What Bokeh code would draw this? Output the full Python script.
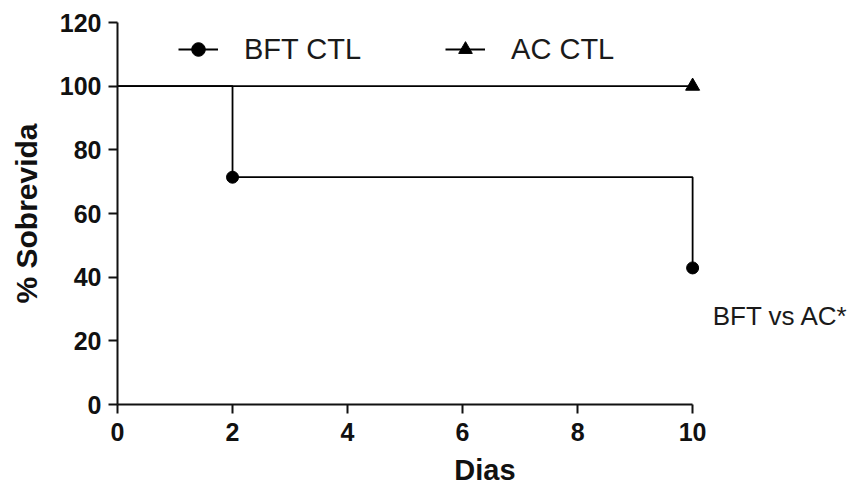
from bokeh.plotting import figure
from bokeh.models import Range1d, Legend, LegendItem, Label, FixedTicker
from bokeh.embed import file_html
from bokeh.resources import INLINE

# ---- data ----
days_bft = [0, 2, 10]
surv_bft = [100, 71.4, 42.9]
days_ac = [0, 10]
surv_ac = [100, 100]
series_names = ["BFT CTL", "AC CTL"]
x_ticks = [0, 2, 4, 6, 8, 10]
y_ticks = [0, 20, 40, 60, 80, 100, 120]
x_title = "Dias"
y_title = "% Sobrevida"
note_text = "BFT vs AC*"

FONT = "Liberation Sans"

p = figure(width=854, height=488, output_backend="svg", toolbar_location=None,
           x_range=Range1d(0, 12.78), y_range=Range1d(0, 120),
           min_border_left=117, min_border_right=2,
           min_border_top=22, min_border_bottom=84)
p.outline_line_color = None
p.grid.visible = False
p.background_fill_color = "white"
p.border_fill_color = "white"

# lines (Kaplan-Meier steps)
bft_line = p.step(days_bft, surv_bft, mode="after", line_color="black", line_width=1.8)
ac_line = p.step(days_ac, surv_ac, mode="after", line_color="black", line_width=1.8)

# markers at events / end
bft_pts = p.scatter(days_bft[1:], surv_bft[1:], marker="circle", size=12,
                    fill_color="black", line_color="black")
ac_pts = p.scatter(days_ac[1:], surv_ac[1:], marker="triangle", size=14,
                   fill_color="black", line_color="black")

# axes
for ax in (p.xaxis[0], p.yaxis[0]):
    ax.axis_line_width = 2
    ax.axis_line_color = "#111111"
    ax.major_tick_line_width = 2
    ax.major_tick_line_color = "#111111"
    ax.major_tick_out = 9
    ax.major_tick_in = 0
    ax.minor_tick_line_color = None
    ax.major_label_text_font = FONT
    ax.major_label_text_font_style = "bold"
    ax.major_label_text_font_size = "25px"
    ax.major_label_text_color = "#111111"
    ax.axis_label_text_font = FONT
    ax.axis_label_text_font_style = "bold"
    ax.axis_label_text_font_size = "30px"
    ax.axis_label_text_color = "#111111"

p.xaxis[0].ticker = FixedTicker(ticks=x_ticks)
p.yaxis[0].ticker = FixedTicker(ticks=y_ticks)
p.xaxis[0].bounds = (x_ticks[0], x_ticks[-1])
p.yaxis[0].bounds = (y_ticks[0], y_ticks[-1])
p.xaxis[0].axis_label = x_title
p.yaxis[0].axis_label = y_title
p.xaxis[0].major_label_standoff = 9
p.xaxis[0].axis_label_standoff = 10
p.xaxis[0].axis_label_text_font_size = "29px"
p.yaxis[0].major_label_standoff = 7
p.yaxis[0].axis_label_standoff = 14

# legend
legend = Legend(items=[
    LegendItem(label=series_names[0], renderers=[bft_line, bft_pts]),
    LegendItem(label=series_names[1], renderers=[ac_line, ac_pts]),
], orientation="horizontal", location=(61, 338))
legend.border_line_color = None
legend.background_fill_alpha = 0
legend.padding = 0
legend.margin = 0
legend.spacing = 84
legend.glyph_width = 40
legend.glyph_height = 34
legend.label_height = 34
legend.label_standoff = 26
legend.label_text_font = FONT
legend.label_text_font_size = "29px"
legend.label_text_color = "#1a1a1a"
p.add_layout(legend, "center")

# annotation
note = Label(x=10.35, y=27.8, text=note_text, text_font=FONT, text_font_size="26px",
             text_color="#1a1a1a", text_baseline="alphabetic", text_align="left")
p.add_layout(note)

open("out.html", "w").write(file_html(p, INLINE))
